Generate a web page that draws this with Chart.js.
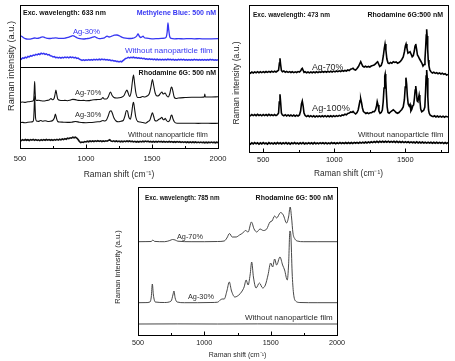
<!DOCTYPE html>
<html><head><meta charset="utf-8">
<script src="https://cdn.jsdelivr.net/npm/chart.js@4/dist/chart.umd.min.js"></script>
<style>
html,body{margin:0;padding:0;background:#fff;width:455px;height:361px;overflow:hidden}
canvas{position:absolute;left:0;top:0}
</style></head><body>
<canvas id="c1" width="455" height="361"></canvas>
<canvas id="c2" width="455" height="361"></canvas>
<canvas id="c3" width="455" height="361"></canvas>
<script>
// ---------- tick labels ----------
const ticks633 = [500, 1000, 1500, 2000];
const minor633 = [500, 750, 1000, 1250, 1500, 1750, 2000];
const ticks473 = [500, 1000, 1500];
const minor473 = [500, 750, 1000, 1250, 1500, 1750];
const ticks785 = [500, 1000, 1500, 2000];
const minor785 = [500, 750, 1000, 1250, 1500, 1750, 2000];

// ---------- Panel 1 : 633 nm (Raman shift cm-1, intensity a.u.) ----------
const mb633_ag30 = [[500,112.5],[515,111.5],[530,110],[550,109],[570,108.8],[590,109.3],[610,110],[630,109.6],[650,110.2],[668,111.2],[685,110.6],[700,109.8],[720,109.5],[745,109.8],[770,110.2],[795,109.7],[820,109.6],[845,110],[865,110.6],[885,111.6],[900,112.4],[915,111.5],[935,110],[955,109.3],[980,109],[1005,109.4],[1030,109.8],[1050,110.8],[1065,111.3],[1080,110.4],[1100,109.4],[1120,109.6],[1140,110.2],[1160,111.8],[1175,111],[1195,111.8],[1215,112.8],[1235,113],[1255,112],[1275,110.6],[1300,109.8],[1325,109.5],[1350,109.7],[1370,110.5],[1385,112.2],[1394,114],[1403,112],[1415,110.5],[1425,111.2],[1432,111.8],[1442,110.3],[1460,109.8],[1485,109.4],[1510,109.2],[1540,109.4],[1570,109.6],[1595,109.8],[1608,111],[1615,116],[1621,125],[1627,118],[1634,111.5],[1645,109.6],[1670,109.2],[1700,109.3],[1740,109.2],[1780,109.4],[1820,109.2],[1860,109.3],[1900,109.1],[1950,109.2],[2000,109.3]];
const mb633_without = [[500,89.5],[510,88.8],[520,90.2],[530,89.6],[540,90.8],[550,90.1],[560,91.5],[570,91],[580,92.3],[590,91.8],[600,93],[610,92.5],[620,93.6],[630,93.1],[640,94.2],[650,93.5],[660,94.8],[670,94],[680,94.6],[690,93.6],[700,94.2],[710,93],[720,93.4],[730,92.2],[740,92],[750,91],[760,91.4],[770,90.4],[780,90.8],[790,90],[800,90.6],[810,89.8],[820,90.7],[830,90.1],[840,91],[850,90.3],[860,90.9],[870,90.2],[880,91.1],[890,90.4],[900,90.9],[910,90],[920,90.6],[930,89.6],[940,89.9],[950,88.9],[960,88.3],[970,87.6],[980,88.1],[990,87.5],[1000,88.2],[1010,87.7],[1020,88.4],[1030,87.8],[1040,88.5],[1050,87.9],[1060,88.6],[1070,88],[1080,88.7],[1090,88.1],[1100,88.8],[1110,88.2],[1120,88.9],[1130,88.3],[1140,88.7],[1150,88],[1160,88.5],[1170,87.8],[1180,88.2],[1190,87.4],[1200,87.8],[1210,87],[1220,87.3],[1230,86.5],[1240,86.8],[1250,86.1],[1260,86.6],[1270,86.2],[1280,87.3],[1290,88.4],[1300,89.5],[1310,89.9],[1320,90.6],[1330,90.1],[1340,90.7],[1350,90.2],[1360,90.8],[1370,90.1],[1380,90.5],[1390,89.8],[1400,90.2],[1410,89.5],[1420,89.9],[1430,89.2],[1440,89.6],[1450,88.9],[1460,89.3],[1470,88.6],[1480,89.1],[1490,88.5],[1500,89],[1510,88.3],[1520,88.9],[1530,88.2],[1540,88.8],[1550,88.1],[1560,88.7],[1570,88],[1580,88.6],[1590,88],[1600,88.7],[1610,88.1],[1620,88.8],[1630,88.2],[1640,88.7],[1650,88],[1660,88.6],[1670,87.9],[1680,88.5],[1690,87.9],[1700,88.6],[1710,88],[1720,88.7],[1730,88.1],[1740,88.6],[1750,87.9],[1760,88.5],[1770,87.8],[1780,88.4],[1790,87.8],[1800,88.5],[1810,87.9],[1820,88.6],[1830,88],[1840,88.5],[1850,87.8],[1860,88.4],[1870,87.8],[1880,88.5],[1890,87.9],[1900,88.4],[1910,87.8],[1920,88.5],[1930,87.9],[1940,88.6],[1950,88],[1960,88.4],[1970,87.8],[1980,88.3],[1990,87.7],[2000,88.2]];
const r6g633_ag70 = [[500,45.5],[520,46],[540,45.6],[560,46.2],[580,46.5],[598,47],[604,49],[608,58],[611,66.5],[614,58],[618,49],[625,47.5],[640,47.8],[660,47.2],[680,47],[700,47.5],[720,48],[735,49.5],[745,48.3],[758,49.5],[766,54],[772,58],[778,54],[786,49],[800,47.8],[820,47.5],[840,47.6],[860,47.3],[880,47.8],[900,48.6],[920,48.4],[940,47.6],[960,47.5],[980,47.6],[1000,47.3],[1020,47.4],[1040,47.8],[1060,48.2],[1080,48.4],[1100,48.5],[1118,49],[1128,50.5],[1138,49],[1155,49],[1170,51.5],[1185,56],[1198,52.5],[1212,50.5],[1230,50],[1250,50.2],[1270,50.8],[1288,52.5],[1300,56],[1310,58],[1318,55.5],[1330,51.5],[1342,56],[1352,67],[1360,73],[1368,65],[1378,55],[1392,50.5],[1410,50.5],[1428,51.5],[1445,51],[1462,52],[1480,54.5],[1492,61],[1503,68.5],[1512,63],[1524,55],[1538,52],[1552,52.5],[1566,55],[1575,56],[1584,54],[1592,54.5],[1600,55],[1610,52.5],[1622,51],[1634,54],[1644,60],[1650,61],[1658,57],[1668,51],[1682,49.5],[1700,50],[1750,50.5],[1800,50.8],[1850,50.7],[1890,50.9],[1896,51],[1900,54],[1904,51],[1950,51],[2000,51.2]];
const r6g633_ag30 = [[500,25.3],[520,25.6],[540,25.2],[560,25.8],[580,26],[598,26.5],[604,30],[608,42],[611,52],[614,42],[618,30],[625,27],[640,26.6],[655,27.5],[670,26.8],[690,27.3],[710,26.5],[730,26.8],[748,27.5],[760,30],[768,34],[776,30],[786,26.5],[800,26],[830,25.8],[860,25.6],[890,25.8],[920,26.5],[950,25.8],[980,25.4],[1000,25.3],[1030,25.5],[1060,25.8],[1090,26.2],[1110,26.5],[1128,27.5],[1140,27],[1155,28],[1168,32],[1180,36.5],[1190,37.3],[1200,34.5],[1212,30],[1228,27],[1245,26.3],[1265,26.8],[1282,27.5],[1295,32],[1306,37.5],[1314,37],[1324,31],[1336,28.7],[1346,35],[1355,44],[1360,45.7],[1367,40],[1377,31],[1392,26.5],[1410,26],[1430,25.5],[1450,24.8],[1468,26.3],[1484,28],[1495,32.5],[1503,35.3],[1512,32],[1522,27.5],[1535,27],[1550,28.5],[1565,29.5],[1575,30.7],[1585,28.3],[1593,28.5],[1600,29.7],[1610,27.5],[1622,26.3],[1635,28],[1645,32.5],[1650,33],[1658,29.5],[1670,26],[1690,24.8],[1750,24.7],[1800,24.8],[1850,24.6],[1900,24.8],[1950,24.6],[2000,24.7]];
const r6g633_without = [[500,8.2],[510,7.4],[520,8.4],[530,7.6],[540,8.5],[550,7.7],[560,8.3],[570,7.5],[580,8.4],[590,7.8],[600,8.6],[610,7.7],[620,8.4],[630,7.6],[640,8.2],[650,7.4],[660,8.3],[670,7.6],[680,8.4],[690,7.7],[700,8.5],[710,7.8],[720,8.4],[730,7.7],[740,8.3],[750,7.6],[760,8.4],[770,7.8],[780,8.6],[790,7.9],[800,8.8],[810,8.1],[820,9],[830,8.4],[840,9.4],[850,8.8],[860,9.8],[870,9.3],[880,10.2],[890,9.8],[900,10.8],[910,10.2],[920,10.9],[930,10],[940,8.5],[950,6.5],[960,5.4],[970,6],[980,5.6],[990,6.4],[1000,6],[1010,6.8],[1020,6.2],[1030,7],[1040,6.4],[1050,7.1],[1060,6.5],[1070,7.2],[1080,6.6],[1090,7.3],[1100,6.6],[1110,7.2],[1120,6.5],[1130,7.1],[1140,6.6],[1150,7.2],[1160,6.8],[1170,7.6],[1180,8.2],[1190,7],[1200,6.6],[1210,7.2],[1220,6.4],[1230,7],[1240,6.3],[1250,6.9],[1260,6.2],[1270,6.8],[1280,6.2],[1290,6.9],[1300,6.3],[1310,7],[1320,6.4],[1330,7],[1340,6.3],[1350,6.8],[1360,6.1],[1370,6.7],[1380,6],[1390,6.6],[1400,6],[1410,6.7],[1420,6.1],[1430,6.8],[1440,6.2],[1450,6.9],[1460,6.3],[1470,6.8],[1480,6.1],[1490,6.6],[1500,5.9],[1510,6.5],[1520,5.9],[1530,6.6],[1540,6],[1550,6.7],[1560,6.1],[1570,6.6],[1580,5.9],[1590,6.5],[1600,5.8],[1610,6.4],[1620,5.8],[1630,6.5],[1640,5.9],[1650,6.4],[1660,5.7],[1670,6.3],[1680,5.7],[1690,6.4],[1700,5.8],[1710,6.3],[1720,5.6],[1730,6.2],[1740,5.6],[1750,6.2],[1760,5.5],[1770,6.1],[1780,5.5],[1790,6.1],[1800,5.4],[1810,6],[1820,5.4],[1830,6],[1840,5.3],[1850,5.9],[1860,5.3],[1870,5.9],[1880,5.3],[1890,5.8],[1900,5.2],[1910,5.8],[1920,5.2],[1930,5.8],[1940,5.3],[1950,5.9],[1960,5.3],[1970,5.8],[1980,5.2],[1990,5.8],[2000,5.3]];

// ---------- Panel 2 : 473 nm ----------
const r6g473_ag70 = [[400,79.6],[410,78.7],[420,79.9],[430,79],[440,80.1],[450,79.2],[460,80.3],[470,79.3],[480,80.2],[490,79.4],[500,80.4],[510,79.5],[520,80.5],[530,79.6],[540,80.6],[550,79.8],[560,80.7],[570,79.9],[580,80.8],[590,80],[600,81],[608,82],[614,89],[618,93.7],[622,88],[628,81.5],[635,80.2],[645,81],[655,79.8],[665,80.6],[675,79.6],[685,80.4],[695,79.5],[705,80.3],[715,79.4],[725,80.2],[735,79.5],[745,80.4],[755,80],[765,81.5],[770,83],[775,83.7],[780,82],[787,79.6],[795,80.2],[805,79.2],[815,80],[825,79.1],[835,80],[845,79.2],[855,80.1],[865,79.3],[875,80.2],[885,79.4],[895,80.3],[905,79.6],[915,80.5],[925,79.7],[935,80.6],[945,79.8],[955,80.7],[965,79.9],[975,80.8],[985,80],[995,80.9],[1005,80.1],[1015,81],[1025,80.3],[1035,81.2],[1045,80.5],[1055,81.4],[1065,80.7],[1075,81.6],[1085,81],[1095,82],[1105,81.4],[1115,82.8],[1125,83.2],[1132,83.7],[1140,82.5],[1150,82],[1160,83.5],[1170,85.5],[1180,88.5],[1186,90.3],[1193,88],[1200,85.8],[1210,85],[1220,85.8],[1230,84.9],[1240,85.6],[1250,85],[1260,86],[1270,86.4],[1280,87],[1290,88],[1298,89.5],[1305,90.3],[1312,88],[1320,85.5],[1330,86.5],[1338,90],[1345,96],[1352,104],[1357,108],[1363,102],[1370,93],[1378,89],[1386,88.4],[1395,89.5],[1405,88.7],[1415,90.3],[1425,89.5],[1435,90],[1445,88.7],[1455,89.5],[1465,90.5],[1475,92.5],[1485,95],[1493,100],[1500,106],[1505,108],[1511,104],[1518,99],[1526,99.5],[1533,100.3],[1540,98],[1548,95.3],[1556,96.5],[1563,101],[1568,106],[1573,108],[1579,103],[1585,97],[1592,95.3],[1600,93],[1608,91],[1616,89],[1624,86],[1632,87.5],[1638,93],[1643,105],[1647,117],[1650,122.7],[1653,116],[1657,103],[1661,92],[1666,86],[1672,82],[1680,80.2],[1690,79],[1700,79.8],[1710,78.6],[1720,79.4],[1730,78.3],[1740,79.1],[1750,78],[1760,78.8],[1770,77.7],[1780,78.3],[1790,77],[1800,77.5]];
const r6g473_ag100 = [[400,37.2],[410,36.2],[420,37.5],[430,36.4],[440,37.4],[450,36.3],[460,37.6],[470,36.5],[480,37.3],[490,36.2],[500,37.5],[510,36.4],[520,37.4],[530,36.3],[540,37.6],[550,36.5],[560,37.3],[570,36.4],[580,37.5],[590,36.4],[600,37.4],[608,39],[613,50],[618,57.7],[623,49],[628,39],[635,37],[645,36.2],[655,37.3],[665,36.1],[675,37.1],[685,36],[695,37],[705,35.9],[715,36.9],[725,35.8],[735,36.8],[745,36],[755,37],[763,41],[769,48],[775,51],[781,46],[787,39],[795,36.5],[805,35.4],[815,36.4],[825,35.3],[835,36.3],[845,35.2],[855,36.2],[865,35.1],[875,36.1],[885,35.2],[895,36.1],[905,35.2],[915,36.2],[925,35.3],[935,36.3],[945,35.2],[955,36.2],[965,35.3],[975,36.2],[985,35.3],[995,36.3],[1005,35.4],[1015,36.4],[1025,35.6],[1035,36.6],[1045,35.9],[1055,37],[1065,36.6],[1075,37.8],[1085,37.2],[1095,38.6],[1105,38.9],[1115,40],[1125,39.6],[1132,40.5],[1140,39.2],[1150,38],[1160,39.5],[1168,42],[1175,47],[1181,51.5],[1186,53],[1192,49],[1198,44],[1205,40.5],[1213,39.5],[1222,38.5],[1232,39.3],[1242,38.4],[1252,39.2],[1262,39.2],[1272,40.4],[1282,40.3],[1290,42],[1297,46],[1302,50.3],[1308,47],[1314,41],[1322,38.7],[1330,39.5],[1338,42],[1344,50],[1350,64],[1355,76],[1358,78],[1362,72],[1367,57],[1372,45],[1378,39.5],[1386,38.7],[1395,40],[1405,41.2],[1415,42.2],[1425,41],[1435,39.5],[1445,38.7],[1455,39.5],[1465,41],[1475,42.5],[1485,45],[1493,52],[1499,65],[1504,74.3],[1509,68],[1514,56],[1520,48],[1527,46],[1533,47.5],[1539,41],[1545,42.5],[1552,46],[1558,47],[1564,54],[1569,62],[1573,66],[1578,60],[1583,51],[1588,50.3],[1593,54],[1597,57],[1602,52],[1608,43],[1615,40.3],[1622,41],[1630,42],[1637,45],[1642,60],[1646,76],[1650,82],[1654,74],[1658,55],[1663,42],[1668,38.7],[1675,36.8],[1685,36],[1695,35.3],[1705,36.2],[1715,35.1],[1725,36],[1735,35],[1745,35.9],[1755,34.9],[1765,35.8],[1775,34.8],[1785,35.7],[1800,35]];
const r6g473_without = [[400,8.8],[410,7.9],[420,9.2],[430,8.1],[440,9.3],[450,8.2],[460,9.1],[470,7.8],[480,9.2],[490,8.1],[500,9.4],[510,8.2],[520,9],[530,7.9],[540,9.3],[550,8.3],[560,9.1],[570,8],[580,9.2],[590,8.1],[600,9.4],[610,8.3],[620,9.2],[630,8],[640,9.1],[650,8.2],[660,9.3],[670,8.1],[680,9.2],[690,7.9],[700,9.1],[710,8.2],[720,9.4],[730,8.3],[740,9.1],[750,8],[760,9.2],[770,8.2],[780,9.3],[790,8.1],[800,9],[810,8.2],[820,9.3],[830,8.3],[840,9.2],[850,8.1],[860,9.4],[870,8.3],[880,9.1],[890,8.2],[900,9.3],[910,8.4],[920,9.2],[930,8.2],[940,9.3],[950,8.3],[960,9.1],[970,8.2],[980,9.4],[990,8.4],[1000,9.2],[1010,8.3],[1020,9.3],[1030,8.4],[1040,9.4],[1050,8.4],[1060,9.2],[1070,8.5],[1080,9.5],[1090,8.5],[1100,9.4],[1110,8.6],[1120,9.5],[1130,8.6],[1140,9.6],[1150,8.7],[1160,9.6],[1170,8.8],[1180,9.8],[1190,8.9],[1200,9.8],[1210,9],[1220,10],[1230,9.1],[1240,10.1],[1250,9.3],[1260,10.3],[1270,9.4],[1280,10.4],[1290,9.5],[1300,10.6],[1310,9.6],[1320,10.7],[1330,9.8],[1340,10.8],[1350,9.8],[1360,10.7],[1370,9.7],[1380,10.8],[1390,9.8],[1400,10.6],[1410,9.7],[1420,10.7],[1430,9.6],[1440,10.6],[1450,9.6],[1460,10.5],[1470,9.5],[1480,10.4],[1490,9.4],[1500,10.3],[1510,9.4],[1520,10.2],[1530,9.2],[1540,10.1],[1550,9.2],[1560,10],[1570,9.1],[1580,10.1],[1590,9.1],[1600,10],[1610,9],[1620,9.9],[1630,9],[1640,9.8],[1650,8.9],[1660,9.8],[1670,8.9],[1680,9.7],[1690,8.8],[1700,9.8],[1710,8.8],[1720,9.7],[1730,8.7],[1740,9.6],[1750,8.7],[1760,9.6],[1770,8.6],[1780,9.5],[1790,8.6],[1800,9.4]];

// ---------- Panel 3 : 785 nm ----------
const r6g785_ag70 = [[500,93.3],[560,93.4],[600,93.5],[612,95],[625,93.6],[700,93.3],[740,94.5],[760,95.5],[780,95],[800,93.8],[900,93.3],[1000,93.3],[1100,93.5],[1150,94],[1170,97],[1190,101.5],[1210,98],[1240,98],[1265,100],[1290,102],[1310,104.5],[1330,103],[1355,113],[1375,106],[1395,103],[1420,106],[1445,104.5],[1470,106],[1495,113],[1510,114],[1530,119],[1545,117],[1575,122.5],[1595,120],[1620,112],[1635,118],[1647,128],[1657,118],[1668,102],[1683,96],[1700,94],[1750,93.3],[1850,93.3],[2000,93.3]];
const r6g785_ag30 = [[500,32.3],[560,32.4],[590,33],[600,38],[608,51],[616,40],[630,33],[700,32.5],[750,34],[763,40],[771,44],[780,37],[795,33],[850,32.3],[950,32.3],[1050,32.5],[1100,32.8],[1120,35],[1135,36],[1150,36],[1170,44],[1188,53],[1205,44],[1230,38],[1260,40],[1280,43],[1300,48],[1315,55],[1330,50],[1345,60],[1357,73],[1370,58],[1390,47],[1415,52],[1440,47],[1460,50],[1480,60],[1500,72],[1515,68],[1530,76],[1545,70],[1570,78],[1590,70],[1605,65],[1625,55],[1635,70],[1645,104],[1652,100],[1662,62],[1672,42],[1688,34],[1720,32.5],[1850,32.3],[2000,32.3]];
const r6g785_without = [[500,11],[800,11.1],[1100,11],[1400,11.1],[1700,11],[2000,11]];

// ---------- drawing ----------
const FONT = '"Liberation Sans", Arial, Helvetica, sans-serif';
const BLUE = '#3636f2';
const INK = '#1a1a1a';

const panelPlugin = {
  id: 'panel',
  afterDatasetsDraw(chart, args, opts) {
    const ctx = chart.ctx, a = chart.chartArea, xs = chart.scales.x, ys = chart.scales.y;
    ctx.save();
    ctx.strokeStyle = '#000'; ctx.lineWidth = 1;
    const L = Math.round(a.left) + 0.5, T = Math.round(a.top) + 0.5;
    const R = Math.round(a.right) + 0.5, B = Math.round(a.bottom) + 0.5;
    ctx.strokeRect(L, T, R - L, B - T);
    (opts.minor || []).forEach(v => {
      const px = Math.round(xs.getPixelForValue(v)) + 0.5;
      const len = opts.major.includes(v) ? 4 : 2.5;
      ctx.beginPath(); ctx.moveTo(px, B); ctx.lineTo(px, B - len); ctx.stroke();
    });
    if (opts.divider != null) {
      const py = Math.round(ys.getPixelForValue(opts.divider)) + 0.5;
      ctx.beginPath(); ctx.moveTo(L, py); ctx.lineTo(R, py); ctx.stroke();
    }
    (opts.texts || []).forEach(t => {
      ctx.save();
      ctx.font = (t.bold ? 'bold ' : '') + t.size + 'px ' + FONT;
      ctx.fillStyle = t.color || '#2a2a2a';
      ctx.textAlign = t.align || 'left';
      ctx.textBaseline = 'middle';
      ctx.translate(t.x, t.y);
      if (t.rot) ctx.rotate(t.rot);
      ctx.fillText(t.text, 0, 0);
      ctx.restore();
    });
    ctx.restore();
  }
};

function series(data, color, width, smooth) {
  return { data: data.map(([x, y]) => ({ x, y })), borderColor: color, borderWidth: width,
    pointRadius: 0, fill: false, tension: 0,
    cubicInterpolationMode: smooth ? 'monotone' : 'default' };
}

function makeChart(id, c) {
  return new Chart(document.getElementById(id), {
    type: 'line',
    data: { datasets: c.datasets },
    options: {
      responsive: false, animation: false, events: [],
      layout: { padding: c.pad },
      plugins: { legend: { display: false }, tooltip: { enabled: false },
        panel: { major: c.ticks, minor: c.minor, divider: c.divider, texts: c.texts } },
      scales: {
        x: { type: 'linear', min: c.xmin, max: c.xmax,
          afterFit: s => { s.height = c.axisH; },
          afterBuildTicks: s => { s.ticks = c.ticks.map(v => ({ value: v })); },
          grid: { display: false, drawTicks: false }, border: { display: false },
          ticks: { font: { size: c.tickSize, family: FONT }, color: INK, padding: c.tickPad, maxRotation: 0, autoSkip: false,
            callback: v => String(v) },
          title: { display: true, text: 'Raman shift (cm⁻¹)', font: { size: c.titleSize, family: FONT }, color: '#2a2a2a', padding: { top: 0, bottom: 0 } } },
        y: { display: false, min: 0, max: c.ymax }
      }
    },
    plugins: [panelPlugin]
  });
}

const ROT = -Math.PI / 2;

makeChart('c1', {
  xmin: 500, xmax: 2000, ymax: 143, ticks: ticks633, minor: minor633, divider: 81,
  pad: { left: 20, top: 5, right: 237, bottom: 181 }, axisH: 32, tickSize: 7.6, tickPad: 6, titleSize: 8.5,
  datasets: [
    series(mb633_ag30, BLUE, 1.3, true),
    series(mb633_without, BLUE, 1.5, false),
    series(r6g633_ag70, '#111', 1.1, true),
    series(r6g633_ag30, '#111', 1.1, true),
    series(r6g633_without, '#111', 1.6, false)
  ],
  texts: [
    { text: 'Exc. wavelength: 633 nm', x: 23, y: 13, size: 7, bold: true, color: '#111' },
    { text: 'Methylene Blue: 500 nM', x: 216, y: 13, size: 7, bold: true, color: BLUE, align: 'right' },
    { text: 'Ag-30%', x: 73, y: 32, size: 7.6, color: BLUE },
    { text: 'Without nanoparticle film', x: 125, y: 51, size: 8, color: BLUE },
    { text: 'Rhodamine 6G: 500 nM', x: 216, y: 73, size: 7, bold: true, color: '#111', align: 'right' },
    { text: 'Ag-70%', x: 75, y: 93, size: 7.4 },
    { text: 'Ag-30%', x: 75, y: 115, size: 7.4 },
    { text: 'Without nanoparticle film', x: 128, y: 135, size: 7.3 },
    { text: 'Raman intensity (a.u.)', x: 11, y: 66, size: 9.2, align: 'center', rot: ROT }
  ]
});

makeChart('c2', {
  xmin: 400, xmax: 1800, ymax: 147, ticks: ticks473, minor: minor473, divider: null,
  pad: { left: 249, top: 5, right: 7, bottom: 182 }, axisH: 27, tickSize: 7.5, tickPad: 3, titleSize: 8.3,
  datasets: [
    series(r6g473_ag70, '#000', 1.6, false),
    series(r6g473_ag100, '#000', 1.6, false),
    series(r6g473_without, '#000', 1.7, false)
  ],
  texts: [
    { text: 'Exc. wavelength: 473 nm', x: 253, y: 15, size: 6.5, bold: true, color: '#111' },
    { text: 'Rhodamine 6G:500 nM', x: 443, y: 15, size: 7, bold: true, color: '#111', align: 'right' },
    { text: 'Ag-70%', x: 312, y: 68, size: 8.8 },
    { text: 'Ag-100%', x: 312, y: 108, size: 9.2 },
    { text: 'Without nanoparticle film', x: 358, y: 135, size: 7.8 },
    { text: 'Raman intensity (a.u.)', x: 237, y: 83, size: 8.5, align: 'center', rot: ROT }
  ]
});

makeChart('c3', {
  xmin: 500, xmax: 2000, ymax: 148, ticks: ticks785, minor: minor785, divider: null,
  pad: { left: 138, top: 187, right: 118, bottom: 2 }, axisH: 24, tickSize: 7.2, tickPad: 4, titleSize: 7,
  datasets: [
    series(r6g785_ag70, '#333', 0.9, true),
    series(r6g785_ag30, '#333', 0.9, true),
    series(r6g785_without, '#333', 0.9, false)
  ],
  texts: [
    { text: 'Exc. wavelength: 785 nm', x: 145, y: 198, size: 6.3, bold: true, color: '#111' },
    { text: 'Rhodamine 6G: 500 nM', x: 333, y: 198, size: 7, bold: true, color: '#111', align: 'right' },
    { text: 'Ag-70%', x: 177, y: 237, size: 7.3 },
    { text: 'Ag-30%', x: 188, y: 297, size: 7.3 },
    { text: 'Without nanoparticle film', x: 245, y: 318, size: 8 },
    { text: 'Raman intensity (a.u.)', x: 118, y: 267, size: 7.5, align: 'center', rot: ROT }
  ]
});
</script>
</body></html>
